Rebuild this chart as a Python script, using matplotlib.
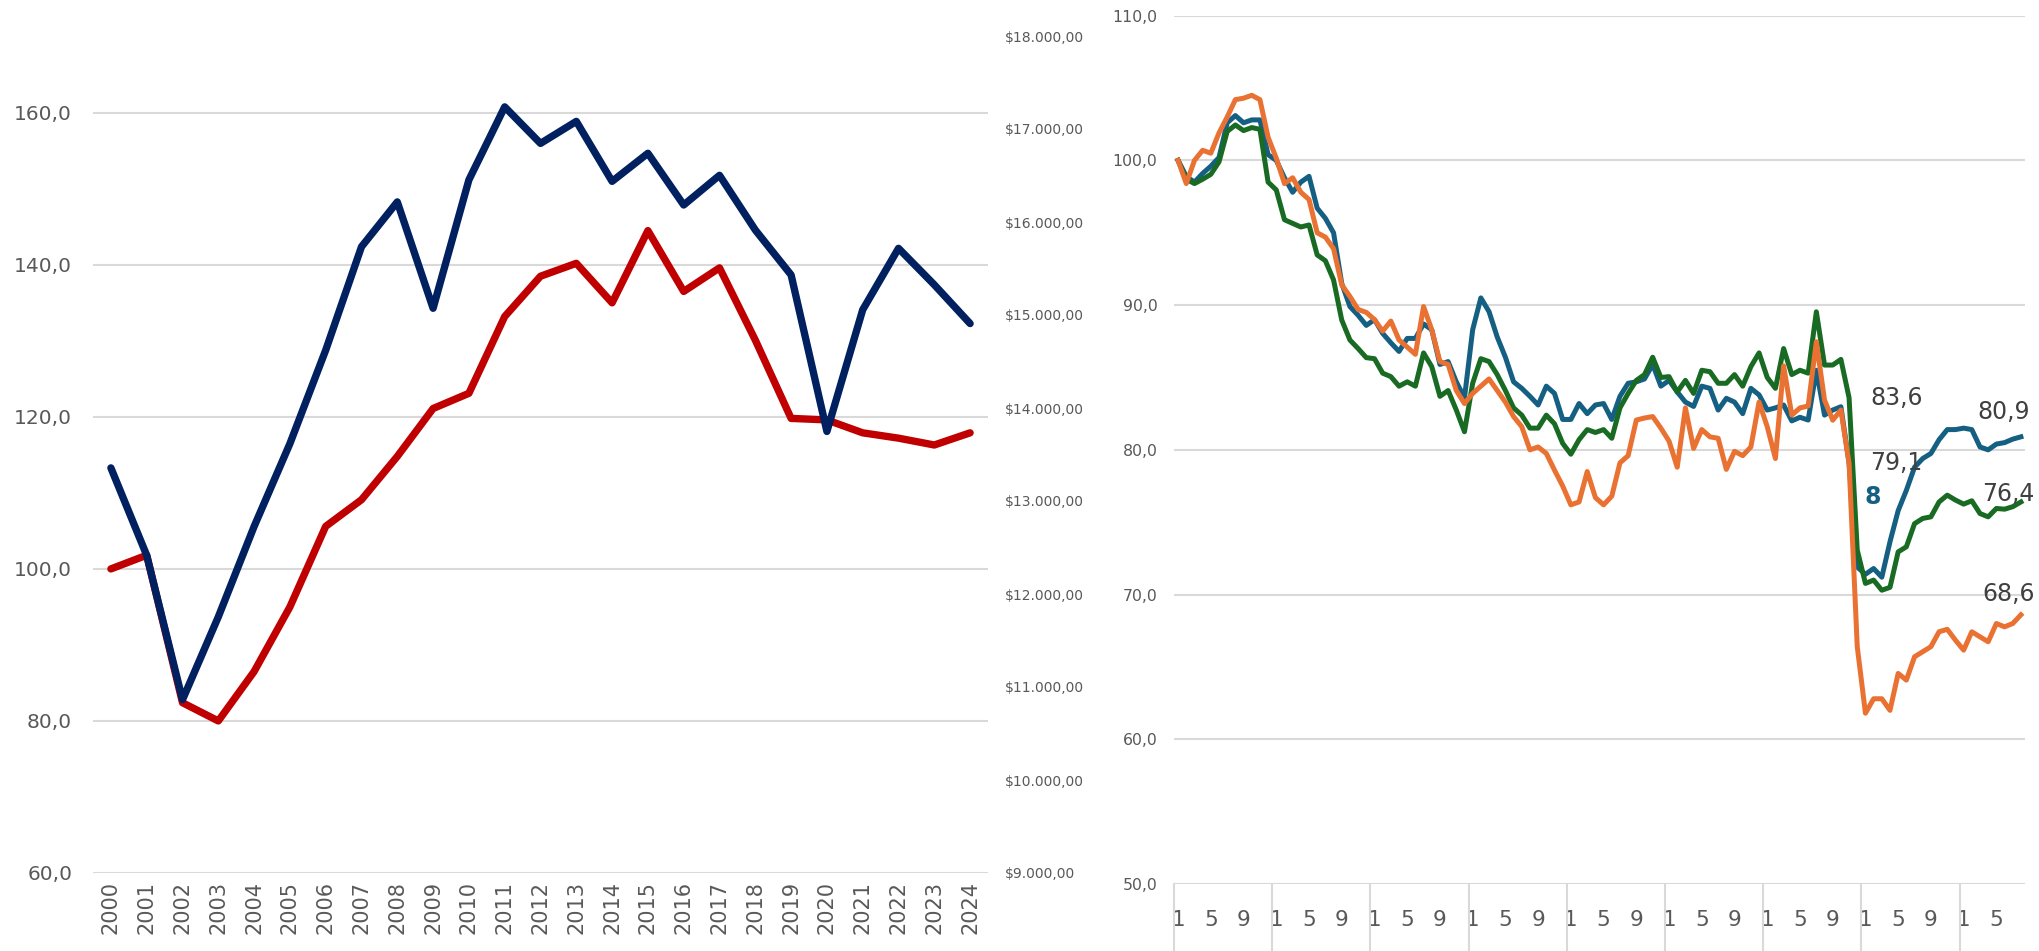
#!/usr/bin/env python3
"""Two side-by-side line charts: yearly index vs. GDP per capita (left),
monthly indices for three series (right)."""
import matplotlib
matplotlib.use("Agg")
import matplotlib.pyplot as plt
import matplotlib.transforms as mtransforms

# ---------------------------------------------------------------- data
YEARS = [str(y) for y in range(2000, 2025)]

# index (left axis)
RED_INDEX = [100.0, 101.8, 82.4, 80.0, 86.5, 95.0, 105.6, 109.1, 114.8, 121.1,
             123.1, 133.2, 138.5, 140.2, 135.0, 144.5, 136.5, 139.6, 130.1,
             119.8, 119.6, 117.9, 117.2, 116.3, 117.9]

# dollars (right axis)
NAVY_USD = [13356, 12416, 10863, 11754, 12726, 13617, 14622, 15734, 16216,
            15072, 16453, 17238, 16845, 17082, 16437, 16739, 16183, 16502,
            15914, 15431, 13748, 15056, 15717, 15325, 14908]

LEFT_TICKS = [60, 80, 100, 120, 140, 160]
RIGHT_TICKS = [9000, 10000, 11000, 12000, 13000, 14000, 15000, 16000, 17000,
               18000]

# monthly series, 8 years + 8 months
BLUE = [100.0, 98.9, 98.5, 99.1, 99.6, 100.2, 102.6, 103.1, 102.6, 102.8,
        102.8, 100.4, 100.0, 98.8, 97.8, 98.5, 98.9, 96.7, 96.0, 95.0,
        91.5, 89.9, 89.3, 88.6, 89.0, 88.05, 87.4, 86.8, 87.7, 87.7,
        88.7, 88.3, 85.9, 86.1, 84.7, 83.6, 88.3, 90.5, 89.55, 87.8,
        86.4, 84.7, 84.25, 83.7, 83.1, 84.4, 83.9, 82.1, 82.1, 83.2,
        82.5, 83.1, 83.2, 82.1, 83.7, 84.6, 84.7, 84.9, 85.9, 84.4,
        84.8, 84.0, 83.3, 83.0, 84.4, 84.25, 82.75, 83.56, 83.3, 82.5,
        84.25, 83.8, 82.75, 82.9, 83.1, 82.0, 82.25, 82.06, 85.5, 82.4,
        82.75, 82.98, 79.1, 71.9, 71.4, 71.8, 71.2, 73.65, 75.8, 77.2,
        78.8, 79.4, 79.75, 80.7, 81.4, 81.4, 81.5, 81.4, 80.2, 80.0,
        80.4, 80.5, 80.74, 80.9]

GREEN = [100.0, 98.7, 98.4, 98.7, 99.04, 99.9, 102.0, 102.45, 102.06, 102.27,
         102.15, 98.5, 97.96, 95.9, 95.65, 95.4, 95.54, 93.47, 93.07, 91.74,
         88.97, 87.59, 87.0, 86.37, 86.3, 85.3, 85.06, 84.4, 84.7, 84.4,
         86.7, 85.75, 83.7, 84.1, 82.75, 81.25, 84.6, 86.3, 86.1, 85.2,
         84.1, 82.9, 82.4, 81.5, 81.5, 82.4, 81.8, 80.45, 79.7, 80.7,
         81.4, 81.2, 81.4, 80.8, 82.9, 83.9, 84.8, 85.2, 86.4, 85.0,
         85.06, 84.0, 84.8, 83.9, 85.5, 85.4, 84.6, 84.6, 85.2, 84.4,
         85.75, 86.7, 85.0, 84.25, 87.0, 85.2, 85.5, 85.3, 89.54, 85.86,
         85.86, 86.25, 83.6, 73.07, 70.77, 71.0, 70.3, 70.5, 72.95, 73.3,
         74.9, 75.26, 75.37, 76.4, 76.87, 76.53, 76.25, 76.48, 75.6, 75.37,
         75.95, 75.9, 76.07, 76.4]

ORANGE = [100.0, 98.4, 100.0, 100.7, 100.5, 101.9, 103.0, 104.2, 104.3, 104.5,
          104.2, 101.6, 100.15, 98.4, 98.8, 97.8, 97.3, 95.0, 94.7, 93.9,
          91.4, 90.6, 89.7, 89.5, 89.0, 88.2, 88.9, 87.6, 87.1, 86.6,
          89.9, 88.3, 86.1, 85.9, 84.1, 83.2, 83.9, 84.4, 84.9, 84.1,
          83.3, 82.3, 81.6, 80.0, 80.2, 79.75, 78.6, 77.5, 76.2, 76.4,
          78.5, 76.7, 76.2, 76.8, 79.1, 79.6, 82.06, 82.2, 82.3, 81.5,
          80.6, 78.8, 82.9, 80.1, 81.4, 80.9, 80.8, 78.65, 79.9, 79.6,
          80.2, 83.3, 81.6, 79.4, 85.8, 82.4, 82.9, 83.03, 87.47, 83.44,
          82.05, 82.75, 79.06, 66.4, 61.8, 62.8, 62.8, 62.0, 64.55, 64.09,
          65.7, 66.05, 66.4, 67.43, 67.6, 66.85, 66.16, 67.43, 67.08, 66.74,
          68.0, 67.77, 68.0, 68.6]

MONTH_TICKS = ["1", "5", "9"]
N_MONTHS = len(BLUE)
RIGHT_Y_TICKS = [50, 60, 70, 80, 90, 100, 110]

# ---------------------------------------------------------------- style
GRID = "#D9D9D9"
TXT = "#595959"
LBL = "#404040"
C_RED, C_NAVY = "#C00000", "#002060"
C_BLUE, C_ORANGE, C_GREEN = "#156082", "#E97132", "#196B24"


def comma(v, nd):
    """Format with '.' for thousands and ',' for decimals."""
    s = f"{v:,.{nd}f}"
    return s.replace(",", "X").replace(".", ",").replace("X", ".")


def left_chart(fig):
    W, H = 2039, 951
    ax = fig.add_axes([93 / W, (H - 873) / H, 895 / W, 837 / H])
    ax2 = ax.twinx()
    x = list(range(len(YEARS)))

    ax.set_ylim(60, 170.1)
    ax.set_yticks(LEFT_TICKS)
    ax.set_yticklabels([comma(v, 1) for v in LEFT_TICKS], fontsize=14.5,
                       color=TXT)
    ax.grid(axis="y", color=GRID, lw=1.5)
    ax.set_axisbelow(True)
    ax.set_xlim(-0.5, len(YEARS) - 0.5)
    ax.set_xticks(x)
    ax.set_xticklabels(YEARS, rotation=90, fontsize=15, color=TXT)
    ax.tick_params(length=0, axis="x", pad=6)
    ax.tick_params(length=0, axis="y", pad=15)

    ax2.set_ylim(9000, 18000)
    ax2.set_yticks(RIGHT_TICKS)
    ax2.set_yticklabels(["$" + comma(v, 2) for v in RIGHT_TICKS], fontsize=10,
                        color=TXT)
    ax2.tick_params(length=0, pad=12)

    ax.plot(x, RED_INDEX, color=C_RED, lw=5.3, solid_capstyle="round",
            zorder=3)
    ax2.plot(x, NAVY_USD, color=C_NAVY, lw=5.3, solid_capstyle="round",
             zorder=4)

    for a in (ax, ax2):
        for s in a.spines.values():
            s.set_visible(False)


def right_chart(fig):
    W, H = 2039, 951
    ax = fig.add_axes([1174 / W, (H - 884) / H, 851 / W, 868.3 / H])
    ax.set_facecolor("none")
    x = list(range(N_MONTHS))

    ax.set_ylim(50, 110)
    ax.set_xlim(-0.5, N_MONTHS - 0.5)
    ax.set_yticks(RIGHT_Y_TICKS)
    ax.set_yticklabels([comma(v, 1) for v in RIGHT_Y_TICKS], fontsize=11.3,
                       color=TXT)
    ax.grid(axis="y", color=GRID, lw=1.5)
    ax.set_axisbelow(True)
    ax.tick_params(length=0, axis="y", pad=12)

    pos = [i for i in x if i % 4 == 0]
    ax.set_xticks(pos)
    ax.set_xticklabels([MONTH_TICKS[(i % 12) // 4] for i in pos],
                       fontsize=15.5, color=TXT)
    ax.tick_params(length=0, axis="x", pad=19)

    for s in ax.spines.values():
        s.set_visible(False)
    ax.axhline(50, color=GRID, lw=2, zorder=1)

    # year separators below the axis
    trans = mtransforms.blended_transform_factory(ax.transData, ax.transAxes)
    for b in range(0, N_MONTHS, 12):
        ax.plot([b - 0.5, b - 0.5], [0, -0.09], transform=trans, color=GRID,
                lw=1.5, clip_on=False)

    ax.plot(x, BLUE, color=C_BLUE, lw=3.6, zorder=3)
    ax.plot(x, GREEN, color=C_GREEN, lw=3.6, zorder=4)
    ax.plot(x, ORANGE, color=C_ORANGE, lw=3.6, zorder=5)

    # data labels
    kw = dict(textcoords="offset pixels", ha="center", va="center",
              fontsize=17, color=LBL, zorder=6)
    ax.annotate(comma(GREEN[82], 1), (82, GREEN[82]), xytext=(48, 0), **kw)
    ax.annotate(comma(BLUE[82], 1), (82, BLUE[82]), xytext=(47, 0), **kw)
    ax.annotate("8", (82, BLUE[82]), xytext=(24, -34), textcoords="offset pixels",
                ha="center", va="center", fontsize=17, color=C_BLUE,
                fontweight="bold", zorder=6)
    last = N_MONTHS - 1
    ax.annotate(comma(BLUE[last], 1), (last, BLUE[last]), xytext=(-17, 25), **kw)
    ax.annotate(comma(GREEN[last], 1), (last, GREEN[last]), xytext=(-13, 8), **kw)
    ax.annotate(comma(ORANGE[last], 1), (last, ORANGE[last]), xytext=(-12, 21),
                **kw)


def main() -> None:
    plt.rcParams["font.family"] = ["DejaVu Sans"]
    fig = plt.figure(figsize=(20.39, 9.51), dpi=100)
    fig.patch.set_facecolor("white")
    left_chart(fig)
    right_chart(fig)
    fig.savefig("out.png", dpi=100)


if __name__ == "__main__":
    main()
